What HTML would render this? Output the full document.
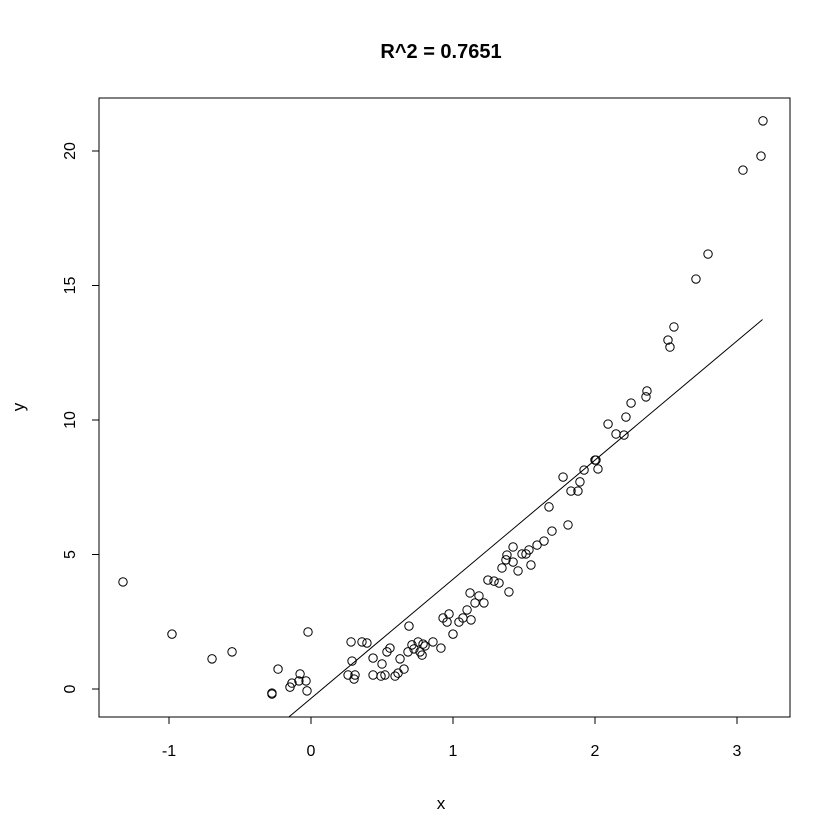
<!DOCTYPE html>
<html>
<head>
<meta charset="utf-8">
<style>
  html, body { margin: 0; padding: 0; background: #fff; }
  svg { display: block; font-family: "Liberation Sans", Arial, sans-serif; }
</style>
</head>
<body>
<svg id="chart" width="840" height="840" viewBox="0 0 840 840" xmlns="http://www.w3.org/2000/svg">
  <rect x="0" y="0" width="840" height="840" fill="#fff"/>
  <text x="441" y="58" text-anchor="middle" font-size="20" font-weight="bold">R^2 = 0.7651</text>
  <rect x="99" y="98" width="691" height="619" fill="none" stroke="#000" stroke-width="1"/>
  <text x="441" y="809" text-anchor="middle" font-size="17">x</text>
  <text x="0" y="0" transform="translate(24,407) rotate(-90)" text-anchor="middle" font-size="17">y</text>
  <g id="xaxis"></g>
  <g id="yaxis"></g>
  <g id="fit"></g>
  <g id="points"></g>
</svg>
<script>
const xTicks = [-1, 0, 1, 2, 3];
const yTicks = [0, 5, 10, 15, 20];
const fitIntercept = -0.35;
const fitSlope = 4.43;
const fitRange = [-0.155, 3.18];
const xValues = [-1.324,-0.979,-0.697,-0.556,-0.275,-0.275,-0.232,-0.148,-0.134,-0.085,-0.077,-0.035,-0.028,-0.021,0.261,0.282,0.289,0.303,0.310,0.359,0.394,0.437,0.437,0.493,0.500,0.521,0.535,0.556,0.592,0.613,0.627,0.655,0.690,0.683,0.711,0.725,0.754,0.768,0.782,0.789,0.803,0.859,0.915,0.930,0.958,0.972,1.000,1.042,1.070,1.099,1.120,1.127,1.155,1.183,1.218,1.246,1.289,1.324,1.345,1.373,1.380,1.394,1.423,1.423,1.458,1.486,1.514,1.535,1.549,1.592,1.641,1.676,1.697,1.775,1.810,1.831,1.880,1.894,1.923,2.000,2.007,2.021,2.092,2.148,2.204,2.218,2.254,2.359,2.366,2.514,2.528,2.556,2.711,2.796,3.042,3.169,3.183];
const yValues = [3.98,2.04,1.12,1.38,-0.15,-0.19,0.74,0.07,0.22,0.30,0.56,0.30,-0.07,2.12,0.52,1.75,1.04,0.37,0.52,1.75,1.71,1.15,0.52,0.48,0.93,0.52,1.38,1.52,0.48,0.59,1.12,0.74,2.34,1.38,1.64,1.49,1.75,1.38,1.26,1.67,1.60,1.75,1.52,2.64,2.49,2.79,2.04,2.49,2.64,2.94,3.57,2.57,3.20,3.46,3.20,4.05,4.01,3.94,4.50,4.80,4.98,3.61,5.28,4.72,4.39,5.02,5.02,5.17,4.61,5.35,5.50,6.77,5.87,7.88,6.10,7.36,7.36,7.70,8.14,8.51,8.51,8.18,9.85,9.48,9.44,10.11,10.63,10.86,11.08,12.97,12.71,13.46,15.24,16.17,19.29,19.81,21.12];

const NS = "http://www.w3.org/2000/svg";
function sx(v) { return 311 + v * 142; }
function sy(v) { return 689 - v * 26.9; }
function mk(tag, attrs, parent) {
  const el = document.createElementNS(NS, tag);
  for (const k in attrs) el.setAttribute(k, attrs[k]);
  parent.appendChild(el);
  return el;
}
const xa = document.getElementById('xaxis');
const ya = document.getElementById('yaxis');
mk('line', {x1: sx(xTicks[0]), x2: sx(xTicks[xTicks.length-1]), y1: 717, y2: 717, stroke: '#000'}, xa);
xTicks.forEach(t => {
  const l = mk('line', {x1: sx(t), x2: sx(t), y1: 717, y2: 724, stroke: '#000'}, xa);
  
  
  const tx = mk('text', {x: sx(t), y: 756, 'text-anchor': 'middle', 'font-size': 16}, xa);
  tx.textContent = t;
  
  
});
mk('line', {x1: 99, x2: 99, y1: sy(yTicks[0]), y2: sy(yTicks[yTicks.length-1]), stroke: '#000'}, ya);
yTicks.forEach(t => {
  const l = mk('line', {x1: 92, x2: 99, y1: sy(t), y2: sy(t), stroke: '#000'}, ya);
  
  
  const tx = mk('text', {x: 0, y: 0, transform: 'translate(75,' + sy(t) + ') rotate(-90)', 'text-anchor': 'middle', 'font-size': 16}, ya);
  tx.textContent = t;
  
  
});
const fit = document.getElementById('fit');
const fl = mk('line', {x1: sx(fitRange[0]), y1: sy(fitIntercept + fitSlope * fitRange[0]), x2: sx(fitRange[1]), y2: sy(fitIntercept + fitSlope * fitRange[1]), stroke: '#000', 'stroke-width': 1}, fit);


const pts = document.getElementById('points');
xValues.forEach((x, i) => {
  const c = mk('circle', {cx: sx(x), cy: sy(yValues[i]), r: 4.2, fill: 'none', stroke: '#000', 'stroke-width': 1}, pts);
  
  
});
</script>
</body>
</html>
